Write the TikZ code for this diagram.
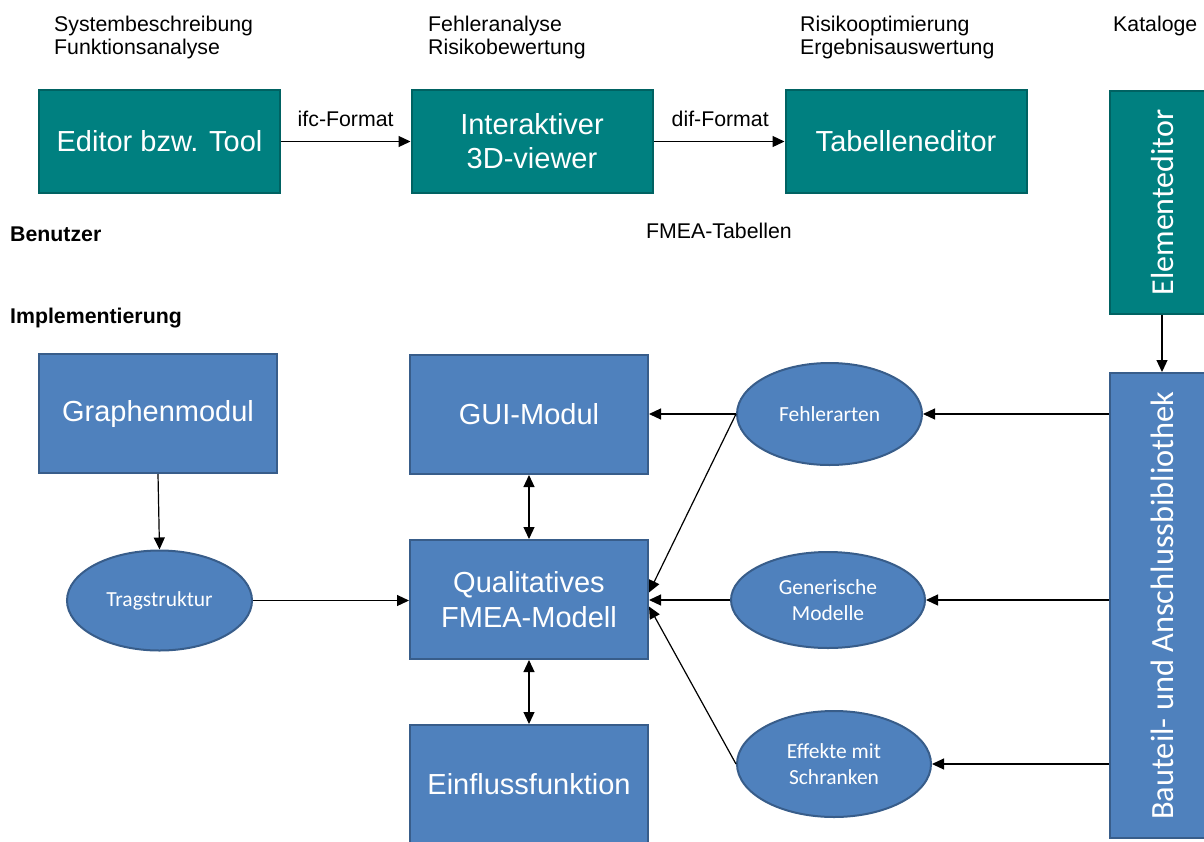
\documentclass[tikz,border=0pt]{standalone}
\usepackage{fontspec}
\setmainfont{Liberation Sans}
\newfontfamily\calfont{Carlito}
\usetikzlibrary{shapes.geometric,arrows.meta}

\definecolor{tealfill}{RGB}{0,128,128}
\definecolor{tealline}{RGB}{0,98,98}
\definecolor{bluefill}{RGB}{79,129,189}
\definecolor{blueline}{RGB}{56,93,138}

\tikzset{
  toolbox/.style={draw=tealline, fill=tealfill, line width=2pt, text=white,
    minimum width=241pt, minimum height=103pt, inner sep=0pt, align=center,
    font=\fontsize{29}{34}\selectfont},
  modbox/.style={draw=blueline, fill=bluefill, line width=2pt, text=white,
    minimum width=238pt, minimum height=119pt, inner sep=0pt, align=center,
    font=\fontsize{29}{35}\selectfont},
  dataell/.style={ellipse, draw=blueline, fill=bluefill, line width=2pt, text=white,
    inner sep=0pt, align=center, font=\calfont\fontsize{21.5}{26}\selectfont},
  lbl/.style={inner sep=0pt, align=left, font=\fontsize{21.3}{23}\selectfont},
  arr/.style={line width=1.2pt, -{Triangle[length=12pt,width=11pt]}},
  dblarr/.style={line width=1.2pt, {Triangle[length=12pt,width=11pt]}-{Triangle[length=12pt,width=11pt]}},
}

\begin{document}
\begin{tikzpicture}[x=1pt, y=-1pt]
\useasboundingbox (0,0) rectangle (1204,841);

% column headings
\node[lbl, anchor=north west] (h1) at (54,15.5) {Systembeschreibung\\Funktionsanalyse};
\node[lbl, anchor=north west] (h2) at (428,15.5) {Fehleranalyse\\Risikobewertung};
\node[lbl, anchor=north west] (h3) at (800,15.5) {Risikooptimierung\\Ergebnisauswertung};
\node[lbl, anchor=north west] (h4) at (1113,15.5) {Kataloge};

% user-side tools
\node[toolbox] (ed)  at (159.5,141.5) {Editor bzw. Tool};
\node[toolbox] (vw)  at (532,141.5) {Interaktiver\\3D-viewer};
\node[toolbox] (tab) at (906,141.5) {Tabelleneditor};
\node[toolbox, rotate=90, minimum width=223pt, minimum height=104pt,
      font=\calfont\fontsize{32}{36}\selectfont] (ee) at (1162,202.5) {Elementeditor};

\node[lbl, anchor=base west] (ifc) at (297.5,126) {ifc-Format};
\node[lbl, anchor=base west] (dif) at (671.5,126) {dif-Format};

\node[lbl, anchor=base west, font=\bfseries\fontsize{21.3}{23}\selectfont] (ben) at (10,241) {Benutzer};
\node[lbl, anchor=base west] (fmea) at (646,238.5) {FMEA-Tabellen};
\node[lbl, anchor=base west, font=\bfseries\fontsize{21.3}{23}\selectfont] (impl) at (10,323) {Implementierung};

% implementation modules
\node[modbox] (gmod) at (158,413.5) {Graphenmodul};
\node[modbox] (gui)  at (529,414.5) {GUI-Modul};
\node[modbox] (qual) at (529,599.5) {Qualitatives\\FMEA-Modell};
\node[modbox] (einf) at (529,784.5) {Einflussfunktion};
\node[modbox, rotate=90, minimum width=465pt, minimum height=104pt,
      font=\calfont\fontsize{32.4}{36}\selectfont] (bib) at (1162,605.5) {Bauteil- und Anschlussbibliothek};

% data objects
\node[dataell, minimum width=185pt, minimum height=100pt] (trag) at (159.5,600.5) {Tragstruktur};
\node[dataell, minimum width=185pt, minimum height=102pt] (fa) at (829.5,414) {Fehlerarten};
\node[dataell, minimum width=194pt, minimum height=96pt] (gen) at (828,600) {Generische\\Modelle};
\node[dataell, minimum width=194pt, minimum height=106pt] (eff) at (834,764) {Effekte mit\\Schranken};

% connectors
\draw[arr] (ed.east) -- (vw.west);
\draw[arr] (vw.east) -- (tab.west);
\draw[arr] (ee.west) -- (bib.east);

\draw[arr] (gmod.south) -- (trag.north);
\draw[arr] (trag.east) -- (trag.east -| qual.west);
\draw[dblarr] (gui.south) -- (qual.north);
\draw[dblarr] (qual.south) -- (einf.north);

\draw[arr] (fa.west) -- (fa.west -| gui.east);
\draw[arr] (fa.west) -- ([yshift=7pt]qual.east);
\draw[arr] (gen.west) -- (gen.west -| qual.east);
\draw[arr] (eff.west) -- ([yshift=-7pt]qual.east);

\draw[arr] (bib.north |- fa.east) -- (fa.east);
\draw[arr] (bib.north |- gen.east) -- (gen.east);
\draw[arr] (bib.north |- eff.east) -- (eff.east);
\end{tikzpicture}
\end{document}
